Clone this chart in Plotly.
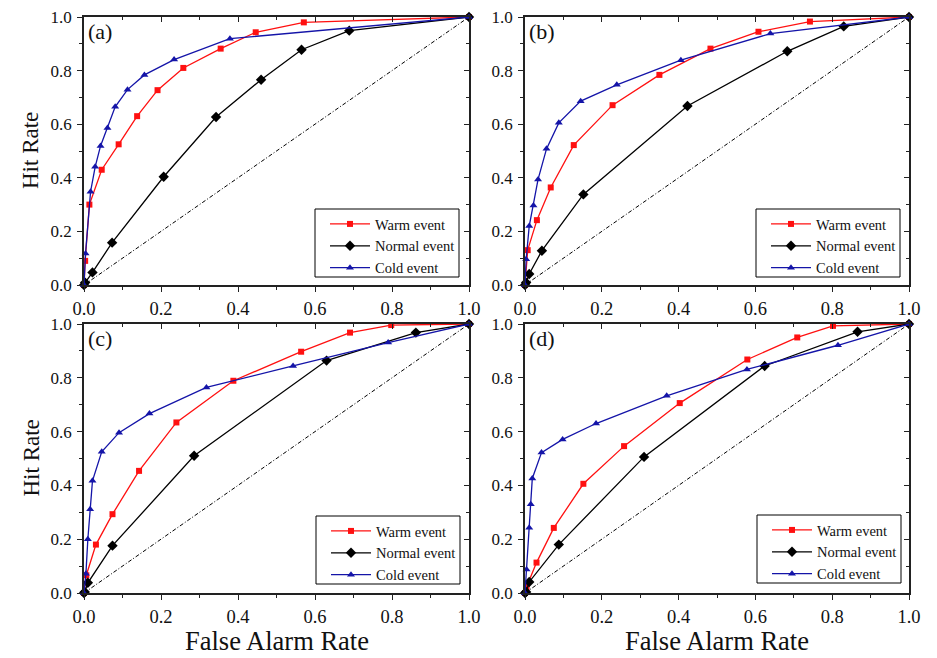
import plotly.graph_objects as go

# ---------------- data ----------------
panel_labels = ["(a)", "(b)", "(c)", "(d)"]
series_names = ["Warm event", "Normal event", "Cold event"]
tick_vals = [0.0, 0.2, 0.4, 0.6, 0.8, 1.0]
tick_text = ["0.0", "0.2", "0.4", "0.6", "0.8", "1.0"]

# Panel (a)
a_warm_far = [0.0, 0.003, 0.014, 0.046, 0.090, 0.138, 0.191, 0.258, 0.355, 0.446, 0.571, 1.0]
a_warm_hr = [0.0, 0.090, 0.300, 0.430, 0.525, 0.630, 0.727, 0.810, 0.882, 0.943, 0.980, 1.0]
a_norm_far = [0.0, 0.003, 0.022, 0.073, 0.207, 0.343, 0.460, 0.565, 0.689, 1.0]
a_norm_hr = [0.0, 0.009, 0.047, 0.158, 0.404, 0.627, 0.766, 0.878, 0.949, 1.0]
a_cold_far = [0.0, 0.004, 0.017, 0.029, 0.043, 0.061, 0.081, 0.113, 0.157, 0.234, 0.379, 1.0]
a_cold_hr = [0.0, 0.118, 0.348, 0.441, 0.519, 0.586, 0.665, 0.729, 0.784, 0.841, 0.919, 1.0]

# Panel (b)
b_warm_far = [0.0, 0.007, 0.031, 0.067, 0.127, 0.228, 0.350, 0.483, 0.608, 0.742, 1.0]
b_warm_hr = [0.0, 0.130, 0.242, 0.364, 0.522, 0.671, 0.784, 0.882, 0.945, 0.983, 1.0]
b_norm_far = [0.0, 0.003, 0.011, 0.044, 0.152, 0.423, 0.683, 0.830, 1.0]
b_norm_hr = [0.0, 0.009, 0.041, 0.128, 0.338, 0.668, 0.872, 0.965, 1.0]
b_cold_far = [0.0, 0.003, 0.011, 0.022, 0.034, 0.056, 0.088, 0.145, 0.239, 0.406, 0.639, 1.0]
b_cold_hr = [0.0, 0.096, 0.220, 0.297, 0.394, 0.508, 0.605, 0.686, 0.747, 0.839, 0.938, 1.0]

# Panel (c)
c_warm_far = [0.0, 0.006, 0.031, 0.074, 0.143, 0.240, 0.388, 0.564, 0.691, 0.798, 1.0]
c_warm_hr = [0.0, 0.066, 0.180, 0.293, 0.454, 0.634, 0.789, 0.897, 0.968, 0.996, 1.0]
c_norm_far = [0.0, 0.002, 0.010, 0.074, 0.286, 0.630, 0.862, 1.0]
c_norm_hr = [0.0, 0.004, 0.038, 0.176, 0.510, 0.864, 0.968, 1.0]
c_cold_far = [0.0, 0.005, 0.010, 0.016, 0.022, 0.046, 0.091, 0.170, 0.318, 0.543, 0.790, 1.0]
c_cold_hr = [0.0, 0.072, 0.200, 0.311, 0.417, 0.525, 0.596, 0.667, 0.764, 0.844, 0.931, 1.0]

# Panel (d)
d_warm_far = [0.0, 0.004, 0.030, 0.075, 0.152, 0.258, 0.403, 0.579, 0.709, 0.802, 1.0]
d_warm_hr = [0.0, 0.022, 0.113, 0.242, 0.406, 0.546, 0.706, 0.868, 0.950, 0.993, 1.0]
d_norm_far = [0.0, 0.003, 0.011, 0.088, 0.310, 0.624, 0.866, 1.0]
d_norm_hr = [0.0, 0.004, 0.041, 0.180, 0.506, 0.844, 0.971, 1.0]
d_cold_far = [0.0, 0.004, 0.011, 0.015, 0.019, 0.043, 0.098, 0.185, 0.369, 0.578, 0.815, 1.0]
d_cold_hr = [0.0, 0.087, 0.243, 0.330, 0.426, 0.522, 0.571, 0.630, 0.733, 0.831, 0.921, 1.0]

diag = [0.0, 1.0]

panels = [
    [(a_warm_far, a_warm_hr), (a_norm_far, a_norm_hr), (a_cold_far, a_cold_hr)],
    [(b_warm_far, b_warm_hr), (b_norm_far, b_norm_hr), (b_cold_far, b_cold_hr)],
    [(c_warm_far, c_warm_hr), (c_norm_far, c_norm_hr), (c_cold_far, c_cold_hr)],
    [(d_warm_far, d_warm_hr), (d_norm_far, d_norm_hr), (d_cold_far, d_cold_hr)],
]

# ---------------- styling ----------------
OFF = 8                      # default page body margin
W, H = 937 - OFF, 658 - OFF  # figure size that fits the window
FONT = "Liberation Serif, Times New Roman, serif"
TXT = "#111111"
colors = ["#ff1010", "#000000", "#1414a8"]
symbols = ["square", "diamond", "triangle-up"]
msizes = [6, 8, 7]

# screen-pixel boxes of the four plot areas (left, right, top, bottom)
boxes = [(84, 469, 17, 285), (525, 909, 17, 285), (84, 469, 324, 593), (525, 909, 324, 593)]
# screen-pixel legend frames (left, right, top, bottom)
legend_frames = [(315, 459, 209, 277), (756, 900, 209, 277),
                 (316, 460, 516, 584), (757, 901, 515, 583)]


def px(x):
    return (x - OFF) / W


def py(y):
    return 1 - (y - OFF) / H


fig = go.Figure()
layout = dict(
    width=W, height=H, margin=dict(l=0, r=0, t=0, b=0, autoexpand=False),
    paper_bgcolor="white", plot_bgcolor="white", template="none",
    font=dict(family=FONT, size=16, color=TXT),
    annotations=[], shapes=[], showlegend=True,
)

axis_col = "#222222"
for i, b in enumerate(boxes):
    n = i + 1
    xa = "x" if n == 1 else f"x{n}"
    ya = "y" if n == 1 else f"y{n}"
    xkey = "xaxis" if n == 1 else f"xaxis{n}"
    ykey = "yaxis" if n == 1 else f"yaxis{n}"
    leg = "legend" if n == 1 else f"legend{n}"

    common = dict(range=[0, 1], tickvals=tick_vals, ticktext=tick_text,
                  showgrid=False, zeroline=False, showline=True, automargin=False,
                  linecolor=axis_col, linewidth=1.5, ticks="outside",
                  ticklen=5, tickwidth=1.2, tickcolor=axis_col,
                  ticklabeloverflow="allow",
                  minor=dict(ticks="outside", ticklen=3, tickwidth=1.2,
                             tickcolor=axis_col, dtick=0.1, tick0=0, showgrid=False),
                  fixedrange=True)
    layout[xkey] = dict(common, domain=[px(b[0]), px(b[1])], anchor=ya, ticklabelstandoff=1,
                        tickfont=dict(family=FONT, size=18.5, color=TXT))
    layout[ykey] = dict(common, domain=[py(b[3]), py(b[2])], anchor=xa, ticklabelstandoff=2,
                        tickfont=dict(family=FONT, size=17, color=TXT))

    # mirrored axes with inward ticks (top and right)
    mx = 4 + n
    mirror_common = dict(
        range=[0, 1], showline=True, automargin=False,
        linecolor=axis_col, linewidth=1.5, ticks="inside", ticklen=5,
        tickwidth=1.2, tickcolor=axis_col, tickvals=tick_vals,
        showticklabels=False, showgrid=False, zeroline=False,
        minor=dict(ticks="inside", ticklen=3, tickwidth=1.2, tickcolor=axis_col,
                   dtick=0.1, tick0=0, showgrid=False), fixedrange=True)
    layout[f"xaxis{mx * 2}"] = dict(mirror_common, overlaying=xa, side="top", anchor=ya)
    layout[f"yaxis{mx * 2}"] = dict(mirror_common, overlaying=ya, side="right", anchor=xa)
    # invisible carrier trace so the mirror axes are drawn
    fig.add_trace(go.Scatter(x=diag, y=diag, xaxis=f"x{mx * 2}", yaxis=f"y{mx * 2}",
                             mode="lines", line=dict(width=0, color="rgba(0,0,0,0)"),
                             showlegend=False, hoverinfo="skip"))

    # diagonal reference line
    fig.add_trace(go.Scatter(x=diag, y=diag, xaxis=xa, yaxis=ya, mode="lines",
                             line=dict(color="black", width=1, dash="4px,2px,1px,2px"),
                             showlegend=False, hoverinfo="skip"))

    for s, (fx, hy) in enumerate(panels[i]):
        fig.add_trace(go.Scatter(
            x=fx, y=hy, xaxis=xa, yaxis=ya, mode="lines+markers",
            name=series_names[s], legend=leg,
            line=dict(color=colors[s], width=1.3),
            marker=dict(symbol=symbols[s], size=msizes[s], color=colors[s],
                        line=dict(width=0)),
            cliponaxis=False))

    # legend frame drawn as a decoration, legend itself without its own border
    l, r, t, bt = legend_frames[i]
    layout["shapes"].append(dict(
        type="rect", xref="paper", yref="paper", x0=px(l), x1=px(r), y0=py(bt), y1=py(t),
        line=dict(color="black", width=1), fillcolor="white", layer="above"))
    layout[leg] = dict(
        x=px(r + 1), y=py(bt + 7), xanchor="right", yanchor="bottom",
        bordercolor="rgba(0,0,0,0)", borderwidth=0, bgcolor="rgba(0,0,0,0)",
        font=dict(family=FONT, size=14.5, color=TXT),
        itemwidth=40, tracegroupgap=0, traceorder="normal")

    layout["annotations"].append(dict(
        text=panel_labels[i], xref=f"{xa} domain", yref=f"{ya} domain",
        x=0.005, y=1.0, xanchor="left", yanchor="top", showarrow=False,
        font=dict(family=FONT, size=22, color=TXT)))

# shared axis titles
for yc in [(17 + 285) / 2, (324 + 593) / 2]:
    layout["annotations"].append(dict(
        text="Hit Rate", xref="paper", yref="paper", x=px(31), y=py(yc),
        xanchor="center", yanchor="middle", textangle=-90, showarrow=False,
        font=dict(family=FONT, size=23, color=TXT)))
for xc in [(84 + 469) / 2, (525 + 909) / 2]:
    layout["annotations"].append(dict(
        text="False Alarm Rate", xref="paper", yref="paper", x=px(xc), y=py(641),
        xanchor="center", yanchor="middle", showarrow=False,
        font=dict(family=FONT, size=26.5, color=TXT)))

fig.update_layout(**layout)
fig.write_html("out.html")
